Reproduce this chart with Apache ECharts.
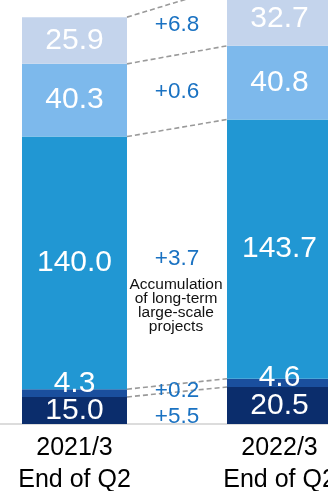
<!DOCTYPE html>
<html><head><meta charset="utf-8">
<script src="https://cdn.jsdelivr.net/npm/echarts@6/dist/echarts.min.js"></script>
<style>html,body{margin:0;padding:0;background:#fff}#c{width:328px;height:491px}</style>
</head><body><div id="c"></div>
<script>
// ---- data ----
const categories = ['2021/3\nEnd of Q2', '2022/3\nEnd of Q2'];
// stacked segments, bottom to top
const segBottom = [15.0, 20.5];
const segThin   = [4.3, 4.6];
const segLarge  = [140.0, 143.7];
const segMid    = [40.3, 40.8];
const segTop    = [25.9, 32.7];
// change labels shown between the bars, bottom to top
const deltaLabels = ['+5.5', '+0.2', '+3.7', '+0.6', '+6.8'];
const noteText = 'Accumulation\nof long-term\nlarge-scale\nprojects';

// ---- styling ----
const segments = [segBottom, segThin, segLarge, segMid, segTop];
const colors = ['#0b2d6c', '#1a4f9e', '#2197d3', '#7db9ec', '#c4d4ec'];
const labelOffsets = [[[0,0],[0,0]], [[0,-9],[0,-5]], [[0,0],[0,0]], [[0,0],[0,0]], [[0,0],[0,-4]]];
const deltaYOffsets = [9, 3, 3, 0, -4];
const BAR_W = 105;
const FONT = 'Liberation Sans, Arial, sans-serif';

const chart = echarts.init(document.getElementById('c'), null, {renderer: 'canvas'});

const series = segments.map((arr, si) => ({
  type: 'bar',
  stack: 'total',
  barWidth: BAR_W,
  clip: true,
  itemStyle: {color: colors[si]},
  label: {
    show: true, position: 'inside', color: '#fff', fontSize: 30, fontFamily: FONT,
    formatter: p => Number(p.value).toFixed(1)
  },
  data: arr.map((v, i) => ({value: v, label: {offset: labelOffsets[si][i]}}))
}));

chart.setOption({
  animation: false,
  grid: {left: -28, width: 410, top: 0, height: 424, containLabel: false, outerBoundsMode: 'none'},
  xAxis: {
    type: 'category', data: categories,
    axisLine: {lineStyle: {color: '#d0d0d0', width: 1.5}},
    axisTick: {show: false},
    axisLabel: {color: '#000', fontSize: 25, lineHeight: 32, fontFamily: FONT, margin: 8}
  },
  yAxis: {type: 'value', min: 0, max: 235, show: false, splitLine: {show: false}},
  series
});

// connectors and change labels
function cum(i, k) { let s = 0; for (let j = 0; j < k; j++) s += segments[j][i]; return s; }
const px = (i, v) => chart.convertToPixel({xAxisIndex: 0, yAxisIndex: 0}, [i, v]);
const x0 = px(0, 0)[0] + BAR_W / 2;
const x1 = px(1, 0)[0] - BAR_W / 2;
const xm = (x0 + x1) / 2;
const elements = [];
for (let k = 1; k <= segments.length; k++) {
  elements.push({
    type: 'line', z: 50,
    shape: {x1: x0, y1: px(0, cum(0, k))[1], x2: x1, y2: px(1, cum(1, k))[1]},
    style: {stroke: '#9a9a9a', lineWidth: 1.6, lineDash: [5, 3]}
  });
}
for (let k = 0; k < segments.length; k++) {
  const yc = (px(0, cum(0, k))[1] + px(0, cum(0, k + 1))[1] + px(1, cum(1, k))[1] + px(1, cum(1, k + 1))[1]) / 4;
  elements.push({
    type: 'text', z: 60, x: xm, y: yc + deltaYOffsets[k],
    style: {text: deltaLabels[k], fill: '#1a72c2', fontSize: 22.5, fontFamily: FONT, align: 'center', verticalAlign: 'middle'}
  });
}
elements.push({
  type: 'text', z: 60, x: xm - 1, y: 278,
  style: {text: noteText, fill: '#111', fontSize: 15.5, lineHeight: 14, fontFamily: FONT, align: 'center', verticalAlign: 'top'}
});
chart.setOption({graphic: {elements}});
</script>
</body></html>
